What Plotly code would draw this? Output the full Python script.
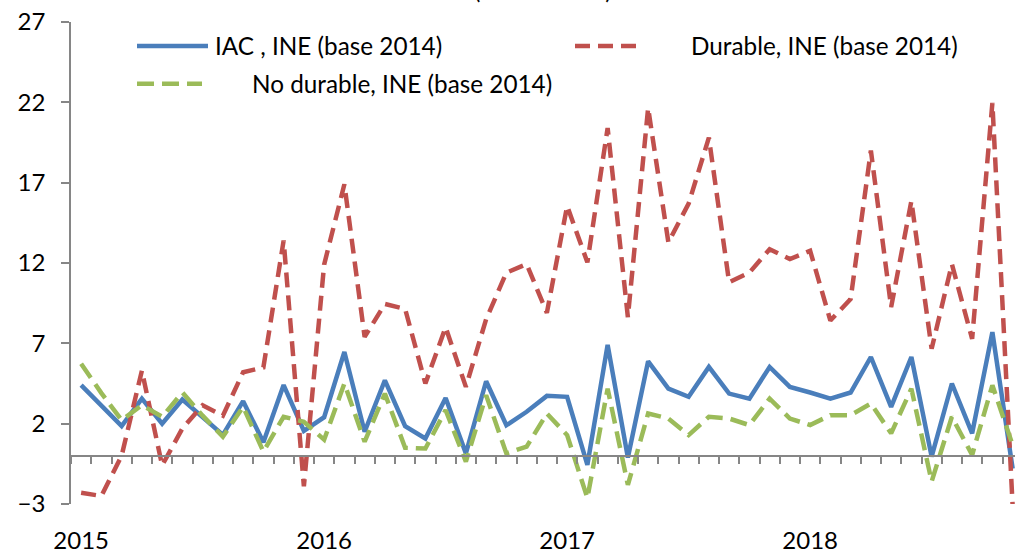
import plotly.graph_objects as go

# ---- data ----
months = [f"{y}-{m:02d}" for y in range(2015, 2019) for m in range(1, 13)][:47]
iac = [4.4, 3.1, 1.85, 3.56, 2.0, 3.5, 2.4, 1.3, 3.4, 0.85, 4.4, 1.55, 2.4, 6.46, 1.5, 4.7,
       1.85, 1.08, 3.6, 0.15, 4.64, 1.9, 2.74, 3.73, 3.67, -0.57, 6.91, -0.11, 5.88, 4.18,
       3.67, 5.53, 3.87, 3.56, 5.53, 4.29, 3.94, 3.56, 3.94, 6.15, 3.05, 6.15, -0.05, 4.5,
       1.4, 7.7, -0.8]
durable = [-2.3, -2.5, 0.0, 5.3, -0.6, 1.7, 3.15, 2.5, 5.2, 5.5, 13.4, -1.9, 11.9, 16.9,
           7.4, 9.45, 9.14, 4.5, 8.0, 4.29, 8.5, 11.4, 11.93, 8.9, 15.55, 12.04, 20.4, 8.63,
           21.65, 13.28, 15.7, 19.8, 10.8, 11.4, 12.86, 12.24, 12.76, 8.42, 9.76, 19.0, 9.25,
           15.86, 6.66, 11.93, 7.28, 21.96, -3.1]
nodurable = [5.73, 3.9, 2.22, 3.15, 2.43, 3.94, 2.5, 1.19, 3.05, 0.26, 2.43, 2.12, 1.0, 4.5,
             0.88, 3.87, 0.5, 0.45, 2.84, -0.36, 3.77, 0.15, 0.57, 2.63, 1.29, -2.63, 4.18,
             -1.81, 2.63, 2.32, 1.29, 2.43, 2.32, 1.91, 3.56, 2.32, 1.91, 2.53, 2.53, 3.25,
             1.4, 4.18, -1.6, 2.43, 0.05, 4.39, 0.67]
tick_positions = [0, 12, 24, 36]
tick_labels = ["2015", "2016", "2017", "2018"]
y_ticks = [-3, 2, 7, 12, 17, 22, 27]
names = ["IAC , INE (base 2014)", "Durable, INE (base 2014)", "No durable, INE (base 2014)"]
title_text = "(var. % anual)"

# ---- styling ----
BLUE, RED, GREEN, GRAY = "#4A7EBB", "#C0504D", "#9BBB59", "#868686"
FONT = "Lato"
W, H = 1015, 554
L, R, T, B = 71, 0, 22, 48
pw, ph = W - L - R, H - T - B


def px(v):
    return (v - L) / pw


def py(v):
    return (H - B - v) / ph


x = list(range(len(iac)))

fig = go.Figure()
fig.add_trace(go.Scatter(x=x, y=iac, name=names[0], mode="lines",
                         line=dict(color=BLUE, width=4.5), showlegend=False))
fig.add_trace(go.Scatter(x=x, y=durable, name=names[1], mode="lines",
                         line=dict(color=RED, width=4.5, dash="15px,8px"), showlegend=False))
fig.add_trace(go.Scatter(x=x, y=nodurable, name=names[2], mode="lines",
                         line=dict(color=GREEN, width=4.5, dash="17px,8px"), showlegend=False))
# carrier trace for the axis drawn at y = 0
fig.add_trace(go.Scatter(x=x, y=[None] * len(x), xaxis="x2", showlegend=False,
                         hoverinfo="skip"))

xr = [-0.5, -0.5 + pw / 20.25]
fig.update_layout(
    width=W, height=H, margin=dict(l=L, r=R, t=T, b=B),
    paper_bgcolor="white", plot_bgcolor="white",
    font=dict(family=FONT, size=24, color="black"),
    xaxis=dict(range=xr, tickvals=tick_positions, ticktext=tick_labels,
               showline=False, ticks="", showgrid=False, zeroline=False,
               ticklabelstandoff=20, tickfont=dict(size=24)),
    xaxis2=dict(range=xr, overlaying="x", anchor="free", position=3 / 30,
                showline=True, linecolor=GRAY, linewidth=1.5, ticks="outside",
                ticklen=7, tickwidth=1.5, tickcolor=GRAY, tick0=-0.5, dtick=1,
                showticklabels=False, showgrid=False, zeroline=False),
    yaxis=dict(range=[-3, 27], tickvals=y_ticks, showline=True, linecolor=GRAY,
               linewidth=1.5, ticks="outside", ticklen=8, tickwidth=1.5, tickcolor=GRAY,
               showgrid=False, zeroline=False, ticklabelstandoff=11,
               tickfont=dict(size=24)),
)

# manual legend (Excel-style layout)
legend = [
    (names[0], BLUE, "solid", 137, 208, 46, 213),
    (names[1], RED, "15px,8px", 575, 640, 46, 689),
    (names[2], GREEN, "17px,8px", 137, 202, 84, 250),
]
for text, col, dash, x0, x1, yy, tx in legend:
    fig.add_shape(type="line", xref="paper", yref="paper", x0=px(x0), x1=px(x1),
                  y0=py(yy), y1=py(yy), line=dict(color=col, width=4.5, dash=dash))
    fig.add_annotation(text=text, xref="paper", yref="paper", x=px(tx), y=py(yy),
                       xanchor="left", yanchor="middle", showarrow=False,
                       font=dict(size=24.3, family=FONT, color="black"))

# partially visible title line at the very top (cropped in the reference too)
fig.add_annotation(text=title_text, xref="paper", yref="paper", x=px(543), y=py(6),
                   xanchor="center", yanchor="bottom", showarrow=False,
                   font=dict(size=24, family=FONT, color="black"))

fig.write_html("out.html", config={"displayModeBar": False},
               post_script="document.body.style.margin='0';"
                           "document.body.style.overflow='hidden';")
